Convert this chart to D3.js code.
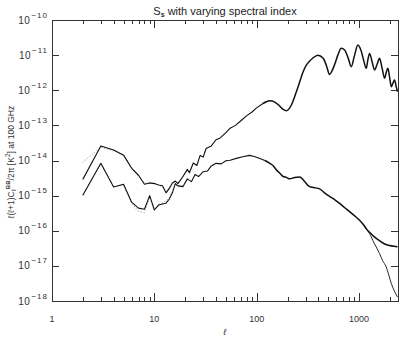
<!DOCTYPE html>
<html>
<head>
<meta charset="utf-8">
<script src="https://cdnjs.cloudflare.com/ajax/libs/d3/7.8.5/d3.min.js"></script>
<style>
body { margin: 0; background: #fff; }
svg { display: block; font-family: "Liberation Sans", Arial, sans-serif; }
.axis path, .axis line { stroke: #333; shape-rendering: crispEdges; }
.axis text { fill: #333; }
</style>
</head>
<body>
<svg width="415" height="346"></svg>
<script>
// multipoles and spectra
var eeEll = [2,3,4,5,6,7,8,9,10,11,12,13,14,15,16,17,19,21,22,24,26,28,30,32,36,40,44,50,55,62,71,80,90,99,115,134,150,165,180,195,218,244,263,281,305,329,354,396,444,480,515,545,577,620,670,722,780,839,900,973,1050,1110,1175,1220,1266,1340,1416,1500,1585,1680,1774,1840,1910,1990,2061,2140,2219,2300,2375];
var eeSolid = [2.9e-15,2.6e-14,2.0e-14,1.42e-14,6.0e-15,3.8e-15,2.1e-15,2.3e-15,2.2e-15,2.0e-15,1.9e-15,1.2e-15,1.6e-15,2.3e-15,2.6e-15,2.2e-15,3.5e-15,5.6e-15,4.5e-15,8.5e-15,7.2e-15,1.4e-14,1.25e-14,2.2e-14,2.6e-14,3.9e-14,4.4e-14,6.2e-14,8.3e-14,1.0e-13,1.4e-13,1.9e-13,2.4e-13,3.1e-13,4.2e-13,5.0e-13,4.6e-13,3.7e-13,2.9e-13,2.6e-13,3.8e-13,9.1e-13,1.74e-12,3.1e-12,5.2e-12,6.8e-12,8.3e-12,1.0e-11,8.3e-12,5.0e-12,2.8e-12,3.6e-12,5.4e-12,1.0e-11,1.56e-11,1.4e-11,8.5e-12,4.7e-12,9.5e-12,1.94e-11,1.3e-11,7.0e-12,4.2e-12,7.5e-12,1.12e-11,6.5e-12,3.8e-12,5.5e-12,8.1e-12,4.2e-12,2.2e-12,3.2e-12,4.2e-12,2.3e-12,1.26e-12,1.6e-12,1.95e-12,1.3e-12,9.1e-13];

var eeDotEll = [2,3,4,5,6,7,8,9,10,11,12,13,14,15,16,17,19,21,22];
var eeDotted = [8.9e-15,2.4e-14,1.9e-14,1.5e-14,6.5e-15,3.6e-15,2.3e-15,2.2e-15,2.3e-15,2.0e-15,1.8e-15,1.3e-15,1.7e-15,2.2e-15,2.5e-15,2.3e-15,3.3e-15,5.2e-15,4.8e-15];

var bbEll = [2,3,4,5,6,7,8,9,10,11,12,13,14,15,16,17,19,21,23,25,27,30,33,36,40,45,50,55,63,73,85,95,107,120,134,144,156,170,181,195,210,235,263,285,305,329,360,412,460,515,580,645,720,808,900,1011,1100,1175,1266,1400,1585,1780,1984,2200,2375];
var bbSolid = [1.03e-15,8.3e-15,1.75e-15,2.1e-15,6.5e-16,4.4e-16,4.1e-16,1.0e-15,3.9e-16,5.4e-16,5.8e-16,6.1e-16,8.0e-16,1.2e-15,2.2e-15,1.9e-15,1.8e-15,3.0e-15,2.5e-15,4.0e-15,3.5e-15,4.8e-15,5.0e-15,7.0e-15,8.3e-15,8.0e-15,9.8e-15,1.02e-14,1.15e-14,1.28e-14,1.4e-14,1.3e-14,1.14e-14,1.0e-14,8.3e-15,7.2e-15,5.4e-15,4.2e-15,3.5e-15,3.3e-15,3.0e-15,3.3e-15,3.4e-15,2.8e-15,2.2e-15,1.8e-15,1.7e-15,1.55e-15,1.2e-15,9.5e-16,7.6e-16,6.0e-16,4.6e-16,3.5e-16,2.7e-16,2.0e-16,1.5e-16,1.15e-16,9.0e-17,6.8e-17,5.2e-17,4.2e-17,3.8e-17,3.6e-17,3.5e-17];

var bbDotEll = [2,3,4,5,6,7,8,9,10,11,12,13,14,15,16,17,19];
var bbDotted = [1.03e-15,8.0e-15,1.8e-15,2.0e-15,6.0e-16,3.6e-16,3.3e-16,9.0e-16,4.2e-16,5.6e-16,6.2e-16,7.0e-16,9.0e-16,1.3e-15,2.0e-15,1.9e-15,1.9e-15];

var bbSteepEll = [1100,1175,1266,1400,1585,1700,1842,1950,2061,2200,2375];
var bbSteep = [1.5e-16,1.12e-16,8.3e-17,4.5e-17,2.24e-17,1.4e-17,9.3e-18,5.5e-18,3.2e-18,2.0e-18,1.29e-18];

var xMajor = [1, 10, 100, 1000];
var xMinor = [2,3,4,5,6,7,8,9,20,30,40,50,60,70,80,90,200,300,400,500,600,700,800,900,2000];
var yMajor = [1e-18,1e-17,1e-16,1e-15,1e-14,1e-13,1e-12,1e-11,1e-10];
var yExp = ["\u221218","\u221217","\u221216","\u221215","\u221214","\u221213","\u221212","\u221211","\u221210"];

// below this multipole the spectra are drawn as straight segments
var ellSmooth = 120;

var svg = d3.select("svg"),
    width = +svg.attr("width"),
    height = +svg.attr("height");

var x = d3.scaleLog()
    .domain([1, 2400])
    .range([52, 398]);

var y = d3.scaleLog()
    .domain([1e-18, 1e-10])
    .range([301, 20]);

svg.append("rect").attr("width", width).attr("height", height).attr("fill", "#fff");

svg.append("clipPath").attr("id", "clip")
  .append("rect")
    .attr("x", 52).attr("y", 20)
    .attr("width", 346).attr("height", 281);

// axes: ticks point inwards, majors and minors
function xAxes(size, vals) {
    svg.append("g").attr("class", "axis")
        .attr("transform", "translate(0,301)")
        .call(d3.axisBottom(x).tickValues(vals).tickSize(-size).tickSizeOuter(0).tickFormat(""));
    svg.append("g").attr("class", "axis")
        .attr("transform", "translate(0,20)")
        .call(d3.axisTop(x).tickValues(vals).tickSize(-size).tickSizeOuter(0).tickFormat(""));
}
xAxes(4, xMinor);
xAxes(8, xMajor);

svg.append("g").attr("class", "axis")
    .attr("transform", "translate(52,0)")
    .call(d3.axisLeft(y).tickValues(yMajor).tickSize(-7).tickSizeOuter(0).tickFormat(""));
svg.append("g").attr("class", "axis")
    .attr("transform", "translate(398,0)")
    .call(d3.axisRight(y).tickValues(yMajor).tickSize(-7).tickSizeOuter(0).tickFormat(""));

// tick labels
svg.selectAll(".xlab")
  .data(xMajor)
  .enter().append("text")
    .attr("x", d => x(d))
    .attr("y", 322)
    .attr("text-anchor", "middle")
    .attr("font-size", 9)
    .attr("fill", "#333")
    .text(d => d);

var ylab = svg.selectAll(".ylab")
  .data(yMajor)
  .enter().append("text")
    .attr("x", 48)
    .attr("y", d => y(d) + 3.5)
    .attr("text-anchor", "end")
    .attr("font-size", 10)
    .attr("fill", "#333");
ylab.append("tspan").attr("letter-spacing", 0.5).text("10");
ylab.append("tspan")
    .attr("dy", -6)
    .attr("dx", 1)
    .attr("font-size", 8)
    .attr("letter-spacing", 1)
    .text((d, i) => yExp[i]);

// title and axis titles
var title = svg.append("text")
    .attr("x", 225).attr("y", 15)
    .attr("text-anchor", "middle")
    .attr("font-size", 11)
    .attr("fill", "#222");
title.append("tspan").text("S");
title.append("tspan").attr("dy", 2).attr("font-size", 7).attr("font-weight", "bold").text("s");
title.append("tspan").attr("dy", -2).text(" with varying spectral index");

svg.append("text")
    .attr("x", 225).attr("y", 335)
    .attr("text-anchor", "middle")
    .attr("font-size", 9)
    .attr("font-style", "italic")
    .attr("fill", "#333")
    .text("\u2113");

var yt = svg.append("text")
    .attr("transform", "translate(14,162) rotate(-90)")
    .attr("text-anchor", "middle")
    .attr("font-size", 8.5)
    .attr("fill", "#333");
yt.append("tspan").text("\u2113(\u2113+1)C");
yt.append("tspan").attr("dy", 2).attr("font-size", 6.5).text("\u2113");
yt.append("tspan").attr("dy", -6).attr("font-size", 6).attr("font-weight", "bold").text("BB");
yt.append("tspan").attr("dy", 4).text("/2\u03c0   [K");
yt.append("tspan").attr("dy", -4).attr("font-size", 6.5).text("2");
yt.append("tspan").attr("dy", 4).text("] at 100 GHz");

// spectra
var lineRough = d3.line()
    .x(d => x(d[0]))
    .y(d => y(d[1]));

var lineSmooth = d3.line()
    .x(d => x(d[0]))
    .y(d => y(d[1]))
    .curve(d3.curveMonotoneX);

var plot = svg.append("g").attr("clip-path", "url(#clip)");

// rough segments at low l, smooth (and a bit heavier, the noisy part) at high l
function addCurve(ell, vals, color, w, dash, wHigh) {
    var pts = d3.zip(ell, vals);
    var parts = [
        [pts.filter(d => d[0] <= ellSmooth), lineRough, w],
        [pts.filter(d => d[0] >= 115), lineSmooth, wHigh || w]
    ];
    parts.forEach(function(p) {
        if (p[0].length < 2) return;
        plot.append("path")
            .datum(p[0])
            .attr("d", p[1])
            .attr("fill", "none")
            .attr("stroke", color)
            .attr("stroke-width", p[2])
            .attr("stroke-dasharray", dash || null)
            .attr("stroke-linejoin", "round");
    });
}

addCurve(eeDotEll, eeDotted, "#888", 1, "1,2");
addCurve(bbDotEll, bbDotted, "#888", 1, "1,2");
addCurve(bbSteepEll, bbSteep, "#111", 0.9);
addCurve(bbEll, bbSolid, "#111", 1.1, null, 1.5);
addCurve(eeEll, eeSolid, "#111", 1.1, null, 1.5);
</script>
</body>
</html>
